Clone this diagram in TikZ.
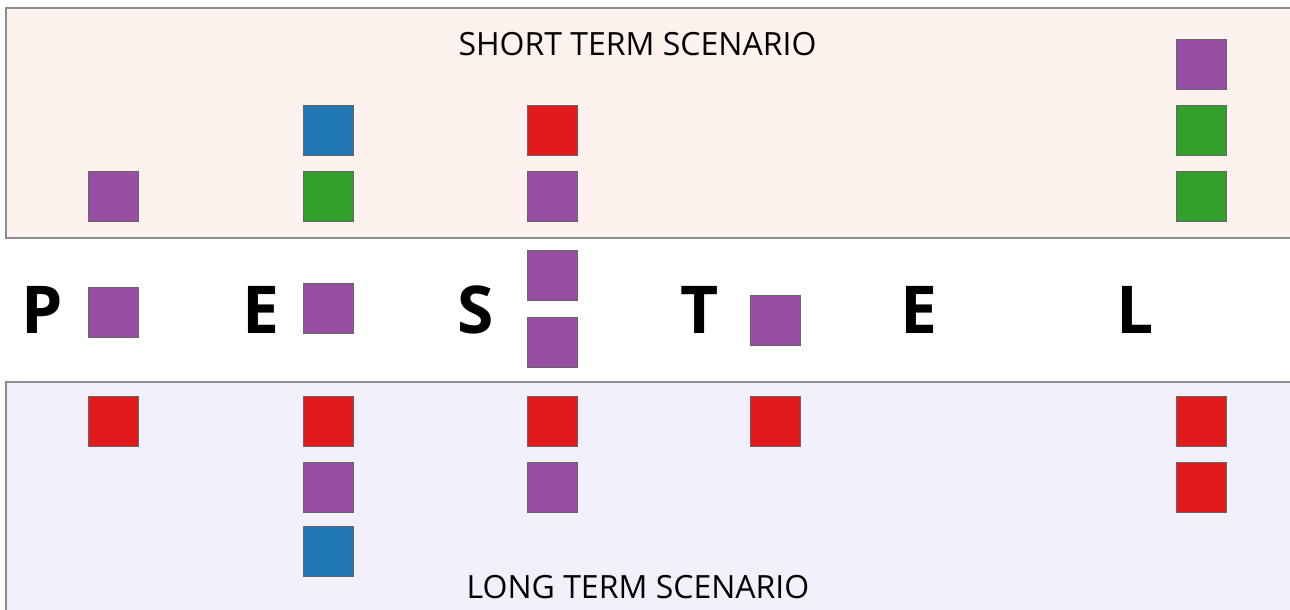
\documentclass[tikz,border=0pt]{standalone}
\usepackage{xcolor}
\usepackage{fontspec}
\setmainfont{Open Sans}
\usepackage{tikz}

\definecolor{shortbg}{HTML}{FEF2EE}
\definecolor{longbg}{HTML}{F2F0FA}
\definecolor{sqpurple}{HTML}{984EA3}
\definecolor{sqgreen}{HTML}{33A02C}
\definecolor{sqblue}{HTML}{1F78B4}
\definecolor{sqred}{HTML}{E31A1C}

\tikzset{
    sq/.style={draw=black!60, line width=0.8pt, rectangle, minimum size=50pt, inner sep=0pt},
    pur/.style={sq, fill=sqpurple},
    grn/.style={sq, fill=sqgreen},
    blu/.style={sq, fill=sqblue},
    rd/.style={sq, fill=sqred},
    letter/.style={inner sep=0pt, font=\fontsize{66}{70}\selectfont\bfseries},
    title/.style={inner sep=0pt, font=\fontsize{32}{38}\selectfont},
    band/.style={draw=black!45, line width=1.5pt},
}

\begin{document}
\begin{tikzpicture}[x=1pt, y=-1pt]
    \useasboundingbox (0, 0) rectangle (1290, 610);
    \clip (0, 0) rectangle (1290, 610);

    % bands
    \draw[band, fill=shortbg] (6, 8) rectangle (1340, 238);
    \draw[band, fill=longbg] (6, 382) rectangle (1340, 660);

    \node[title] at (637.5, 44.5) (short) {SHORT TERM SCENARIO};
    \node[title] at (638, 587) (long) {LONG TERM SCENARIO};

    % letters
    \node[letter] at (42.5, 310) (P) {P};
    \node[letter] at (260.5, 310) (E1) {E};
    \node[letter] at (475.5, 310) (S) {S};
    \node[letter] at (700, 310) (T) {T};
    \node[letter] at (919, 310) (E2) {E};
    \node[letter] at (1135.5, 310) (L) {L};

    % P
    \node[pur] at (113.5, 196.5) (PT1) {};
    \node[pur] at (113.5, 312.5) (PM1) {};
    \node[rd] at (113.5, 421.5) (PB1) {};

    % E
    \node[blu] at (328.5, 130.5) (E1T1) {};
    \node[grn] at (328.5, 196.5) (E1T2) {};
    \node[pur] at (328.5, 308.5) (E1M1) {};
    \node[rd] at (328.5, 421.5) (E1B1) {};
    \node[pur] at (328.5, 487.5) (E1B2) {};
    \node[blu] at (328.5, 551.5) (E1B3) {};

    % S
    \node[rd] at (552, 130.5) (ST1) {};
    \node[pur] at (552, 196.5) (ST2) {};
    \node[pur] at (552, 275.3) (SM1) {};
    \node[pur] at (552, 342) (SM2) {};
    \node[rd] at (552, 421.5) (SB1) {};
    \node[pur] at (552, 487.5) (SB2) {};

    % T
    \node[pur] at (775.5, 320.5) (TM1) {};
    \node[rd] at (775.5, 421.5) (TB1) {};

    % L
    \node[pur] at (1201.5, 64.5) (LT1) {};
    \node[grn] at (1201.5, 130.5) (LT2) {};
    \node[grn] at (1201.5, 196.5) (LT3) {};
    \node[rd] at (1201.5, 421.5) (LB1) {};
    \node[rd] at (1201.5, 487.5) (LB2) {};
\end{tikzpicture}
\end{document}
